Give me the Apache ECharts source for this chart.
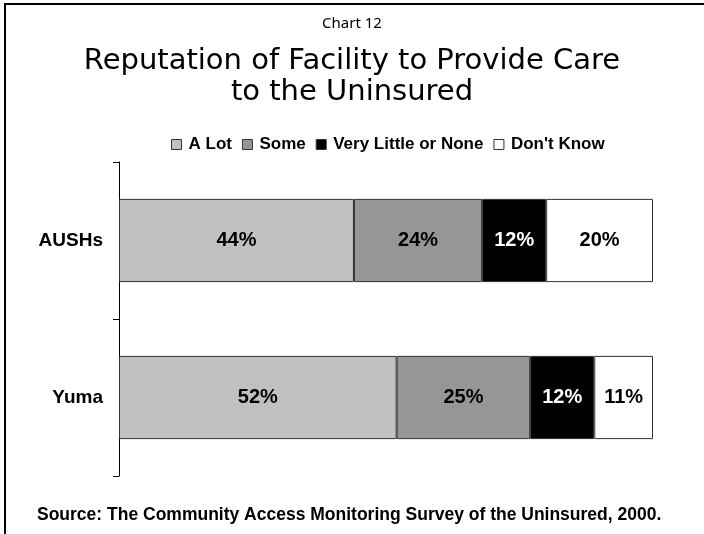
<!DOCTYPE html>
<html lang="en">
<head>
  <meta charset="UTF-8">
  <title>Chart 12</title>
  <script src="https://cdn.jsdelivr.net/npm/echarts@6/dist/echarts.min.js"></script>
  <style>
    html, body { margin: 0; padding: 0; background: #fff; }
    #myChart { width: 704px; height: 534px; }
  </style>
</head>
<body>
  <div id="myChart"></div>
<script>
// data
let categories = ['AUSHs', 'Yuma'];
let seriesNames = ['A Lot', 'Some', 'Very Little or None', "Don't Know"];
let aLot = [44, 52];
let some = [24, 25];
let veryLittle = [12, 12];
let dontKnow = [20, 11];

let colors = ['#c0c0c0', '#969696', '#000000', '#ffffff'];
let labelColors = ['#000', '#000', '#fff', '#000'];
let values = [aLot, some, veryLittle, dontKnow];

let myChart = echarts.init(document.getElementById('myChart'));

let series = seriesNames.map(function (name, i) {
  return {
    name: name,
    type: 'bar',
    stack: 'total',
    barWidth: '53%',
    data: values[i],
    itemStyle: { color: colors[i], borderColor: '#333', borderWidth: 1 },
    label: {
      show: true,
      position: 'inside',
      formatter: '{c}%',
      color: labelColors[i],
      fontFamily: 'Liberation Sans',
      fontWeight: 'bold',
      fontSize: 20
    }
  };
});

let option = {
  animation: false,
  title: [
    {
      text: 'Chart 12',
      left: 'center',
      top: 11,
      textStyle: { fontFamily: 'Noto Sans', fontWeight: 'normal', fontSize: 15, color: '#000' }
    },
    {
      text: 'Reputation of Facility to Provide Care',
      left: 'center',
      top: 42,
      textStyle: { fontFamily: 'DejaVu Sans', fontWeight: 'normal', fontSize: 29, color: '#000' }
    },
    {
      text: 'to the Uninsured',
      left: 'center',
      top: 73,
      textStyle: { fontFamily: 'DejaVu Sans', fontWeight: 'normal', fontSize: 29, color: '#000' }
    }
  ],
  legend: {
    top: 136,
    left: 171,
    padding: 0,
    itemWidth: 10,
    itemHeight: 10,
    itemGap: 10,
    icon: 'rect',
    textStyle: { fontFamily: 'Liberation Sans', fontWeight: 'bold', fontSize: 17, color: '#000', padding: [0, 0, 0, 2] },
    itemStyle: { borderColor: '#333', borderWidth: 1 },
    data: seriesNames
  },
  grid: { left: 119, right: 51, top: 162, bottom: 58 },
  xAxis: {
    type: 'value',
    min: 0,
    max: 100,
    show: false
  },
  yAxis: {
    type: 'category',
    inverse: true,
    data: categories,
    axisLine: { show: true, lineStyle: { color: '#000', width: 1 } },
    axisTick: { show: true, length: 6, lineStyle: { color: '#000' } },
    axisLabel: {
      margin: 16,
      fontFamily: 'Liberation Sans',
      fontWeight: 'bold',
      fontSize: 19,
      color: '#000'
    }
  },
  graphic: [
    {
      type: 'rect',
      shape: { x: 5, y: 4, width: 720, height: 560 },
      style: { fill: 'none', stroke: '#000', lineWidth: 2 },
      silent: true
    },
    {
      type: 'text',
      left: 37,
      top: 506,
      style: {
        text: 'Source: The Community Access Monitoring Survey of the Uninsured, 2000.',
        fontFamily: 'Liberation Sans',
        fontWeight: 'bold',
        fontSize: 17.5,
        fill: '#000'
      }
    }
  ],
  series: series
};
myChart.setOption(option);
</script>
</body>
</html>
